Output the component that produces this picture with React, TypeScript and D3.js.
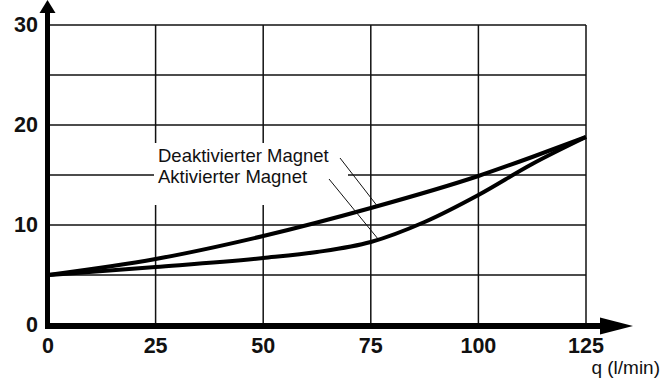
import React from "react";
import * as d3 from "d3";

// flow q (l/min) against pressure
const qTicks = [0, 25, 50, 75, 100, 125];
const pTicks = [0, 10, 20, 30];
const pGrid = [0, 5, 10, 15, 20, 25, 30];

const deactivatedQ = [0, 25, 50, 75, 100, 112.5, 125];
const deactivatedP = [5, 6.6, 8.9, 11.7, 14.9, 16.8, 18.8];

const activatedQ = [0, 25, 50, 62.5, 75, 87.5, 100, 112.5, 125];
const activatedP = [5, 5.8, 6.7, 7.3, 8.3, 10.3, 13.0, 16.1, 18.8];

const labels = ["Deaktivierter Magnet", "Aktivierter Magnet"];
// leader lines end on the curves near q = 76.5
const leaderQ = [76.5, 76.5];
const leaderP = [11.9, 8.7];

const App = () => {
  const width = 664;
  const height = 385;

  const xScale = d3.scaleLinear().domain([0, 125]).range([48, 586]);
  const yScale = d3.scaleLinear().domain([0, 30]).range([325, 25]);

  const line = d3
    .line<[number, number]>()
    .x((d) => xScale(d[0]))
    .y((d) => yScale(d[1]))
    .curve(d3.curveMonotoneX);

  const deactivated = deactivatedQ.map((q, i) => [q, deactivatedP[i]] as [number, number]);
  const activated = activatedQ.map((q, i) => [q, activatedP[i]] as [number, number]);

  const x0 = xScale(0);
  const y0 = yScale(0);
  const axisY = y0 + 1;

  const tickFont = {
    fontFamily: "'Liberation Sans', Arial, sans-serif",
    fontWeight: 700,
    fontSize: 21.5,
  };

  return (
    <svg
      width={width}
      height={height}
      style={{ position: "absolute", left: 0, top: 0, background: "#fff" }}
    >
      {/* grid */}
      <g stroke="#111" strokeWidth={1.5}>
        {pGrid.map((p) => (
          <line key={"h" + p} x1={x0} x2={xScale(125)} y1={yScale(p)} y2={yScale(p)} />
        ))}
        {qTicks.slice(1).map((q) => (
          <line key={"v" + q} x1={xScale(q)} x2={xScale(q)} y1={yScale(30)} y2={y0} />
        ))}
      </g>

      {/* white box behind labels */}
      <rect x={154} y={143} width={194} height={62} fill="#fff" />

      {/* curves */}
      <path d={line(deactivated) ?? ""} fill="none" stroke="#000" strokeWidth={4} />
      <path d={line(activated) ?? ""} fill="none" stroke="#000" strokeWidth={4} />

      {/* labels and leaders */}
      <g
        fontFamily="'Liberation Sans', Arial, sans-serif"
        fontSize={18.5}
        fill="#111"
      >
        <text x={158} y={162}>{labels[0]}</text>
        <text x={158} y={183}>{labels[1]}</text>
      </g>
      <line x1={340} y1={158} x2={xScale(leaderQ[0])} y2={yScale(leaderP[0])} stroke="#111" strokeWidth={1} />
      <line x1={329} y1={179} x2={xScale(leaderQ[1])} y2={yScale(leaderP[1])} stroke="#111" strokeWidth={1} />

      {/* axes */}
      <line x1={47.5} x2={47.5} y1={12} y2={axisY + 3} stroke="#000" strokeWidth={5} />
      <path d={`M${47.5 - 8},13 L47.5,0 L${47.5 + 8},13 Z`} fill="#000" />
      <line x1={45} x2={601} y1={axisY} y2={axisY} stroke="#000" strokeWidth={6} />
      <path d={`M600,${axisY - 8.5} L633,${axisY} L600,${axisY + 8.5} Z`} fill="#000" />

      {/* tick labels */}
      <g {...tickFont} fill="#111">
        {qTicks.map((q) => (
          <text key={"xt" + q} x={xScale(q)} y={353} textAnchor="middle">
            {q}
          </text>
        ))}
        {pTicks.map((p) => (
          <text key={"yt" + p} x={38} y={yScale(p) + 7} textAnchor="end">
            {p}
          </text>
        ))}
      </g>
      <text
        x={660}
        y={374}
        textAnchor="end"
        fontFamily="'Liberation Sans', Arial, sans-serif"
        fontSize={19}
        fill="#111"
      >
        q (l/min)
      </text>
    </svg>
  );
};

export default App;
